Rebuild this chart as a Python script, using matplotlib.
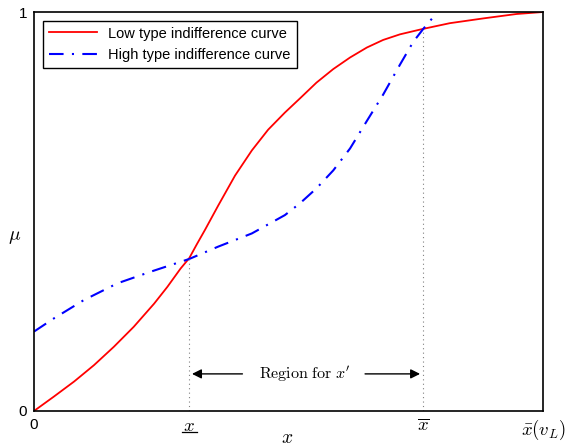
import matplotlib
matplotlib.use("Agg")
import matplotlib.pyplot as plt

plt.rcParams["font.family"] = ["Liberation Sans", "DejaVu Sans"]
plt.rcParams["mathtext.fontset"] = "cm"

# curves
low_x = [0, 0.039, 0.079, 0.118, 0.157, 0.196, 0.236, 0.262, 0.288, 0.305, 0.32, 0.336, 0.362,
         0.395, 0.428, 0.460, 0.493, 0.523, 0.555, 0.588, 0.621, 0.654, 0.686, 0.719,
         0.762, 0.817, 0.883, 0.948, 1.0]
low_y = [0, 0.036, 0.074, 0.115, 0.161, 0.211, 0.269, 0.311, 0.357, 0.383, 0.418, 0.454, 0.515,
         0.590, 0.653, 0.705, 0.748, 0.784, 0.823, 0.857, 0.886, 0.911, 0.930, 0.944,
         0.957, 0.972, 0.984, 0.995, 1.0]

high_x = [0, 0.039, 0.098, 0.164, 0.229, 0.305, 0.362, 0.428, 0.493, 0.523, 0.555, 0.588,
          0.621, 0.654, 0.686, 0.719, 0.745, 0.765, 0.791]
high_y = [0.199, 0.232, 0.278, 0.32, 0.349, 0.381, 0.412, 0.445, 0.491, 0.521, 0.558, 0.603,
          0.658, 0.727, 0.793, 0.868, 0.925, 0.958, 0.997]

x_low, x_high = 0.305, 0.764
y_at_low, y_at_high = 0.382, 0.957

xticks = [0, x_low, x_high, 1.0]
xticklabels = ["0", r"$x$", r"$\overline{x}$", r"$\bar{x}(v_L)$"]
yticks = [0, 1]
yticklabels = ["0", "1"]

fig = plt.figure(figsize=(5.7, 4.48), dpi=100)
ax = fig.add_axes([0.0596, 0.0826, 0.893, 0.8906])

ax.plot(low_x, low_y, color="red", linewidth=1.3, label="Low type indifference curve")
ax.plot(high_x, high_y, color="blue", linewidth=1.5, linestyle=(0, (7, 4, 1, 4)),
        label="High type indifference curve")

ax.vlines([x_low, x_high], [0, 0], [y_at_low, y_at_high], color="gray",
          linestyle=(0, (1, 3)), linewidth=0.8)

arrow_y = 0.093
ax.text(0.532, arrow_y, r"$\mathrm{Region\ for}\ x'$", ha="center", va="center", fontsize=11.5)
ax.annotate("", xy=(x_low, arrow_y), xytext=(0.415, arrow_y),
            arrowprops=dict(arrowstyle="-|>", color="black", lw=1, mutation_scale=14))
ax.annotate("", xy=(x_high, arrow_y), xytext=(0.645, arrow_y),
            arrowprops=dict(arrowstyle="-|>", color="black", lw=1, mutation_scale=14))

ax.set(xlim=(0, 1), ylim=(0, 1))
ax.set_xticks(xticks)
ax.set_xticklabels(xticklabels)
ax.set_yticks(yticks)
ax.set_yticklabels(yticklabels)
ax.tick_params(length=0, labelsize=11, pad=5)
for lab in ax.get_xticklabels()[1:]:
    lab.set_fontsize(13.5)

# underline for the lower bound label (mathtext has no \underline)
ax.plot([x_low - 0.015, x_low + 0.015], [-0.053, -0.053], color="black", lw=0.9,
        transform=ax.get_xaxis_transform(), clip_on=False)

ax.set_xlabel(r"$x$", fontsize=14, va="center")
ax.xaxis.set_label_coords(0.497, -0.068)
ax.set_ylabel(r"$\mu$", fontsize=14, rotation=0, va="center", ha="center")
ax.yaxis.set_label_coords(-0.039, 0.434)

for s in ax.spines.values():
    s.set_linewidth(1.2)

leg = ax.legend(loc="upper left", fontsize=10.5, fancybox=False, edgecolor="black",
                framealpha=1, handlelength=3.3, borderaxespad=0.6)
leg.get_frame().set_linewidth(1.0)

plt.savefig("out.png")
